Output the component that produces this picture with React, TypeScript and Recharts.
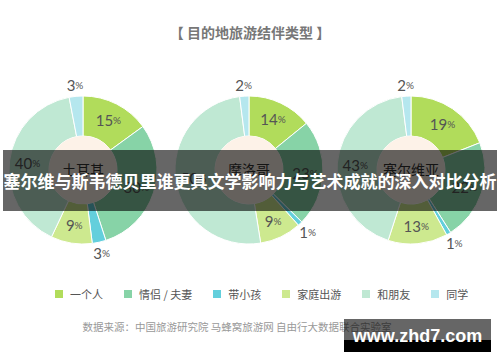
import React from 'react';
import { PieChart, Pie, Cell, Legend } from 'recharts';

const CATEGORIES = ['一个人', '情侣 / 夫妻', '带小孩', '家庭出游', '和朋友', '同学'];
const COLORS = ['#b1dc5b', '#87d3a7', '#63cfdc', '#cde98f', '#bfe8d3', '#b5e7ee'];
const COUNTRIES = ['土耳其', '摩洛哥', '塞尔维亚'];
const TURKEY = [15, 30, 3, 9, 40, 3];
const MOROCCO = [14, 23, 1, 9, 50, 2];
const SERBIA = [19, 22, 1, 13, 43, 2];

const TITLE = '【 目的地旅游结伴类型 】';
const SOURCE = '数据来源：中国旅游研究院 马蜂窝旅游网 自由行大数据联合实验室';
const BANNER = '塞尔维与斯韦德贝里谁更具文学影响力与艺术成就的深入对比分析';
const WATERMARK = 'www.zhd7.com';

const toRows = (values: number[]) => CATEGORIES.map((name, i) => ({ name, value: values[i] }));
const SERIES = [TURKEY, MOROCCO, SERBIA].map(toRows);
const CENTERS = [83, 249, 411];

const RADIAN = Math.PI / 180;
const CY = 170;

// big slices get the label inside the ring, tiny ones outside
const renderLabel = (props: any) => {
  const { cx, cy, midAngle, value } = props;
  const r = value >= 5 ? 56 : 85;
  const x = cx + r * Math.cos(-midAngle * RADIAN);
  const y = cy + r * Math.sin(-midAngle * RADIAN);
  return (
    <text x={x} y={y} textAnchor="middle" dominantBaseline="central" fill="#555" fontFamily="Lato, 'Open Sans', sans-serif">
      <tspan fontSize={15}>{value}</tspan>
      <tspan fontSize={10}>%</tspan>
    </text>
  );
};

const LegendContent = () => (
  <div style={{ display: 'flex', paddingLeft: 55, fontFamily: "'Noto Sans CJK SC', sans-serif", fontSize: 11, color: '#555' }}>
    {CATEGORIES.map((c, i) => (
      <div key={c} style={{ display: 'flex', alignItems: 'center', marginRight: 21 }}>
        <span style={{ width: 8, height: 8, background: COLORS[i], marginRight: 7, display: 'inline-block' }} />
        <span>{c}</span>
      </div>
    ))}
  </div>
);

export default function App() {
  return (
    <div style={{ position: 'absolute', left: 0, top: 0, width: 500, height: 362, background: '#fff', overflow: 'hidden' }}>
      <div style={{ position: 'absolute', top: 22, width: 500, textAlign: 'center', fontFamily: "'Noto Sans CJK SC', sans-serif", fontSize: 14, fontWeight: 700, color: '#777' }}>
        {TITLE}
      </div>
      <PieChart width={500} height={362} margin={{ top: 0, right: 0, bottom: 0, left: 0 }}>
        {SERIES.map((rows, k) => (
          <Pie
            key={`ring-${k}`}
            data={rows}
            dataKey="value"
            nameKey="name"
            cx={CENTERS[k]}
            cy={CY}
            innerRadius={34}
            outerRadius={74}
            startAngle={90}
            endAngle={-270}
            stroke="#fff"
            strokeWidth={1}
            label={renderLabel}
            labelLine={false}
            isAnimationActive={false}
          >
            {rows.map((r, i) => (
              <Cell key={r.name} fill={COLORS[i]} />
            ))}
          </Pie>
        ))}
        {CENTERS.map((c, k) => (
          <Pie
            key={`hole-${k}`}
            data={[{ name: COUNTRIES[k], value: 1 }]}
            dataKey="value"
            cx={c}
            cy={CY}
            innerRadius={0}
            outerRadius={34}
            fill="#fdf2e8"
            stroke="none"
            isAnimationActive={false}
          />
        ))}
        <Legend content={() => <LegendContent />} wrapperStyle={{ position: 'absolute', top: 286, left: 0, width: 500 }} />
      </PieChart>
      {COUNTRIES.map((name, k) => (
        <div
          key={name}
          style={{ position: 'absolute', left: CENTERS[k] - 40, top: CY - 11, width: 80, textAlign: 'center', fontFamily: "'Noto Sans CJK SC', sans-serif", fontSize: 14, color: '#333' }}
        >
          {name}
        </div>
      ))}
      <div style={{ position: 'absolute', top: 319, width: 474, textAlign: 'center', fontFamily: "'Noto Sans CJK SC', sans-serif", fontSize: 10.5, color: '#999' }}>
        {SOURCE}
      </div>
      <div
        style={{
          position: 'absolute', left: 3, top: 150, width: 494, height: 61, background: 'rgba(0,0,0,0.6)',
          display: 'flex', alignItems: 'center', justifyContent: 'center',
          fontFamily: "'Noto Sans CJK SC', sans-serif", fontSize: 17, fontWeight: 700, color: '#fff', whiteSpace: 'nowrap',
        }}
      >
        {BANNER}
      </div>
      <div style={{ position: 'absolute', left: 344, top: 319, width: 147, height: 21, background: 'rgba(0,0,0,0.6)' }} />
      <div style={{ position: 'absolute', left: 344, top: 340, width: 147, height: 12, background: '#000' }} />
      <div style={{ position: 'absolute', left: 344, top: 325, width: 147, textAlign: 'center', fontFamily: "'Liberation Sans', Arial, sans-serif", fontSize: 18, fontWeight: 700, color: '#fff', lineHeight: '22px' }}>
        {WATERMARK}
      </div>
    </div>
  );
}
